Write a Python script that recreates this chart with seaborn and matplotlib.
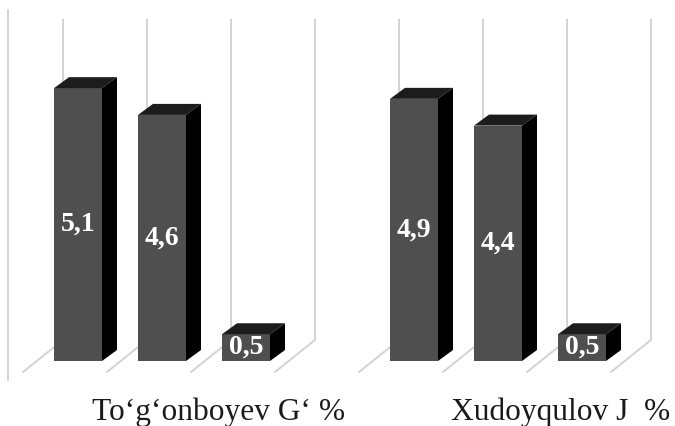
import matplotlib
matplotlib.use("Agg")
import matplotlib.pyplot as plt
from matplotlib.patches import Polygon
import seaborn as sns
import numpy as np

# Data
groups = ["To\u2018g\u2018onboyev G\u2018 %", "Xudoyqulov J  %"]
group_a = [5.1, 4.6, 0.5]
group_b = [4.9, 4.4, 0.5]
axis_max = 6

sns.set_style("white")
plt.rcParams["font.family"] = ["Liberation Serif", "DejaVu Serif"]

fig = plt.figure(figsize=(6.75, 4.26), dpi=100)
ax = fig.add_axes([0, 0, 1, 1])

# slot positions: three bars per group, an empty slot between groups
values = group_a + group_b
positions = [0, 1, 2, 4, 5, 6]

front_col = "#4f4f4f"
top_col = "#1c1c1c"
side_col = "#000000"
grid_col = "#d3d3d3"

sns.barplot(x=positions, y=values, native_scale=True, width=0.571,
            color=front_col, saturation=1, linewidth=0, ax=ax, zorder=3)

# pseudo-3D geometry (depth offset in data units)
bar_dx, bar_dy = 0.1786, 0.2056
floor_front = (-0.155, -0.206)
floor_back = (0.321, 0.393)

# back-wall verticals and floor depth lines at slot boundaries
for k in range(8):
    b = k - 0.5
    xb = b + floor_back[0]
    ax.plot([xb, xb], [floor_back[1], axis_max + floor_back[1]],
            color=grid_col, lw=1.4, zorder=1, solid_capstyle="butt")
    ax.plot([b + floor_front[0], xb], [floor_front[1], floor_back[1]],
            color=grid_col, lw=1.4, zorder=1)

# left edge line
ax.plot([-0.833, -0.833], [-0.355, 6.56], color=grid_col, lw=1.4, zorder=1)

# top and side faces, plus value labels
for p, v in zip(ax.patches, values):
    x0 = p.get_x()
    x1 = x0 + p.get_width()
    h = p.get_height()
    top = Polygon([(x0, h), (x1, h), (x1 + bar_dx, h + bar_dy),
                   (x0 + bar_dx, h + bar_dy)], closed=True,
                  facecolor=top_col, edgecolor="none", zorder=3)
    side = Polygon([(x1, 0), (x1, h), (x1 + bar_dx, h + bar_dy),
                    (x1 + bar_dx, bar_dy)], closed=True,
                   facecolor=side_col, edgecolor="none", zorder=3)
    ax.add_patch(top)
    ax.add_patch(side)
    ax.text((x0 + x1) / 2, h / 2, f"{v:.1f}".replace(".", ","),
            ha="center", va="center", color="white", fontsize=20,
            fontweight="bold", zorder=5)

# category labels
label_x = [1.67, 5.75]
for lx, name in zip(label_x, groups):
    ax.text(lx, -1.103, name, ha="center", va="baseline",
            fontsize=22.6, color="#1a1a1a")

ax.set_xlim(-78 / 84, (675 - 78) / 84)
ax.set_ylim(-65 / 53.5, 361 / 53.5)
ax.set_axis_off()

fig.savefig("out.png", dpi=100, facecolor="white")
